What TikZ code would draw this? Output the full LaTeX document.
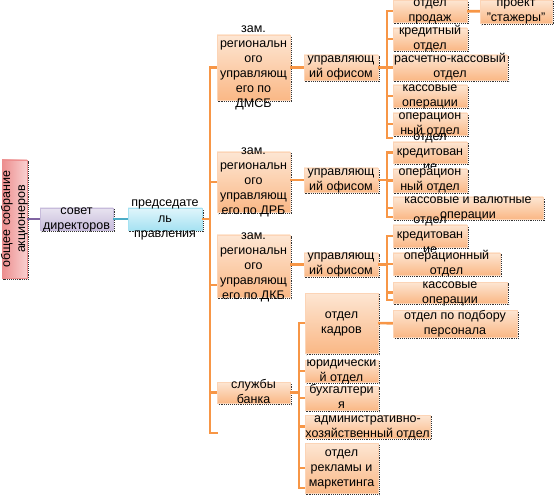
\documentclass[tikz,border=0pt]{standalone}
\usepackage{fontspec}
\setmainfont{Liberation Sans}

\newcommand\boxtext[1]{\makebox[0pt]{\smash{\raisebox{-3pt}{\begin{tabular}{@{}c@{}}#1\end{tabular}}}}}

\tikzset{
  wh/.style n args={2}{minimum width=#1,minimum height=#2},
  unit/.style={draw=peachbot!60,line width=0.4pt,top color=peachtop,bottom color=peachbot,
    preaction={draw=black!80,densely dotted,line width=0.9pt,transform canvas={shift={(1.6pt,-1.6pt)}}}},
  link/.style={draw=linkorange,line width=2.6pt}
}

\begin{document}
\begin{tikzpicture}[x=1pt,y=-1pt,every node/.style={font=\fontsize{12.5}{15}\selectfont,inner sep=0pt}]

\definecolor{peachtop}{HTML}{FDE6D3}
\definecolor{peachbot}{HTML}{FAB886}
\definecolor{linkorange}{HTML}{F79646}
\definecolor{pinktop}{HTML}{F9D0D0}
\definecolor{pinkbot}{HTML}{EC8E8E}
\definecolor{lilactop}{HTML}{E8E3F0}
\definecolor{lilacbot}{HTML}{C7BBDB}
\definecolor{cyantop}{HTML}{E0F5FB}
\definecolor{cyanbot}{HTML}{A6E2F2}
\definecolor{purplelink}{HTML}{8064A2}
\definecolor{teallink}{HTML}{4BACC6}

\useasboundingbox (0,0) rectangle (557,497);

\node[unit,draw=pinkbot,left color=pinkbot,right color=pinktop,wh={118}{25},rotate=90] (aktsionery) at (14.5,219) {\boxtext{общее собрание\\акционеров}};
\node[unit,draw=lilacbot,top color=lilactop,bottom color=lilacbot,wh={73}{22}] (sovet) at (76.5,219) {\boxtext{совет\\директоров}};
\node[unit,draw=cyanbot,top color=cyantop,bottom color=cyanbot,wh={74}{22}] (pred) at (165,219) {\boxtext{председате\\ль\\правления}};

\node[unit,wh={73}{65}] (zamA) at (253.5,67.5) {\boxtext{зам.\\региональн\\ого\\управляющ\\его по\\ДМСБ}};
\node[unit,wh={73}{60}] (zamB) at (253.5,182) {\boxtext{зам.\\региональн\\ого\\управляющ\\его по ДРБ}};
\node[unit,wh={73}{62}] (zamC) at (253.5,266) {\boxtext{зам.\\региональн\\ого\\управляющ\\его по ДКБ}};
\node[unit,wh={73}{21}] (sluzhby) at (253.5,392.5) {\boxtext{службы\\банка}};

\node[unit,wh={74}{25}] (upA) at (341,67.5) {\boxtext{управляющ\\ий офисом}};
\node[unit,wh={74}{24}] (upB) at (341,180) {\boxtext{управляющ\\ий офисом}};
\node[unit,wh={74}{23}] (upC) at (341,264.5) {\boxtext{управляющ\\ий офисом}};

\node[unit,wh={74}{22}] (prodazh) at (430,11) {\boxtext{отдел\\продаж}};
\node[unit,wh={72}{23}] (stazhery) at (516,11.5) {\boxtext{проект\\"стажеры"}};
\node[unit,wh={74}{22}] (kreditA) at (430,39) {\boxtext{кредитный\\отдел}};
\node[unit,wh={114}{25}] (rko) at (450,67.5) {\boxtext{расчетно-кассовый\\отдел}};
\node[unit,wh={74}{22}] (kassaA) at (430,96) {\boxtext{кассовые\\операции}};
\node[unit,wh={74}{22}] (operA) at (430,124) {\boxtext{операцион\\ный отдел}};

\node[unit,wh={74}{21}] (kreditB) at (430,152.5) {\boxtext{отдел\\кредитован\\ие}};
\node[unit,wh={74}{23}] (operB) at (430,180.5) {\boxtext{операцион\\ный отдел}};
\node[unit,wh={150}{22}] (valutaB) at (468,208) {\boxtext{кассовые и валютные\\операции}};

\node[unit,wh={74}{22}] (kreditC) at (430,236) {\boxtext{отдел\\кредитован\\ие}};
\node[unit,wh={107}{22}] (operC) at (446.5,264) {\boxtext{операционный\\отдел}};
\node[unit,wh={114}{21}] (kassaC) at (450,292.5) {\boxtext{кассовые\\операции}};

\node[unit,wh={73}{60}] (kadry) at (341.5,323) {\boxtext{отдел\\кадров}};
\node[unit,wh={124}{27}] (podbor) at (455,323.5) {\boxtext{отдел по подбору\\персонала}};
\node[unit,wh={73}{22}] (yurist) at (341.5,371) {\boxtext{юридически\\й отдел}};
\node[unit,wh={73}{24}] (buhgalt) at (341.5,398) {\boxtext{бухгалтери\\я}};
\node[unit,wh={125}{23}] (ahd) at (367.5,426.5) {\boxtext{административно-\\хозяйственный отдел}};
\node[unit,wh={73}{50}] (reklama) at (341.5,468) {\boxtext{отдел\\рекламы и\\маркетинга}};

\coordinate (busZam) at (210,0);
\coordinate (busOtd) at (387,0);
\coordinate (busSl) at (299,0);
\coordinate (zamCin) at (217,285);
\coordinate (endZam) at (218,433);
\coordinate (endA) at (393,138);
\coordinate (endB) at (393,217);
\coordinate (endC) at (393,300);
\coordinate (endSl) at (305,488);

\draw[purplelink,line width=2pt] (aktsionery.south) -- (sovet.west);
\draw[teallink,line width=2pt] (sovet.east) -- (pred.west);

\foreach \c in {zamA.west,zamB.west,zamCin,sluzhby.west,endZam}
  \draw[link] (pred.east) -| (busZam |- \c) -- (\c);

\foreach \z/\u in {zamA/upA,zamB/upB,zamC/upC}
  \draw[link] (\z.east |- \u.west) -- (\u.west);

\foreach \p/\c in {upA/prodazh.west,upA/kreditA.west,upA/rko.west,upA/kassaA.west,upA/operA.west,upA/endA,
  upB/kreditB.west,upB/operB.west,upB/valutaB.west,upB/endB,
  upC/kreditC.west,upC/operC.west,upC/kassaC.west,upC/endC}
  \draw[link] (\p.east) -| (busOtd |- \c) -- (\c);

\foreach \c in {kadry.west,yurist.west,buhgalt.west,ahd.west,reklama.west,endSl}
  \draw[link] (sluzhby.east) -| (busSl |- \c) -- (\c);

\draw[link] (prodazh) -- (stazhery);
\draw[link] (kadry) -- (podbor);

\end{tikzpicture}
\end{document}
